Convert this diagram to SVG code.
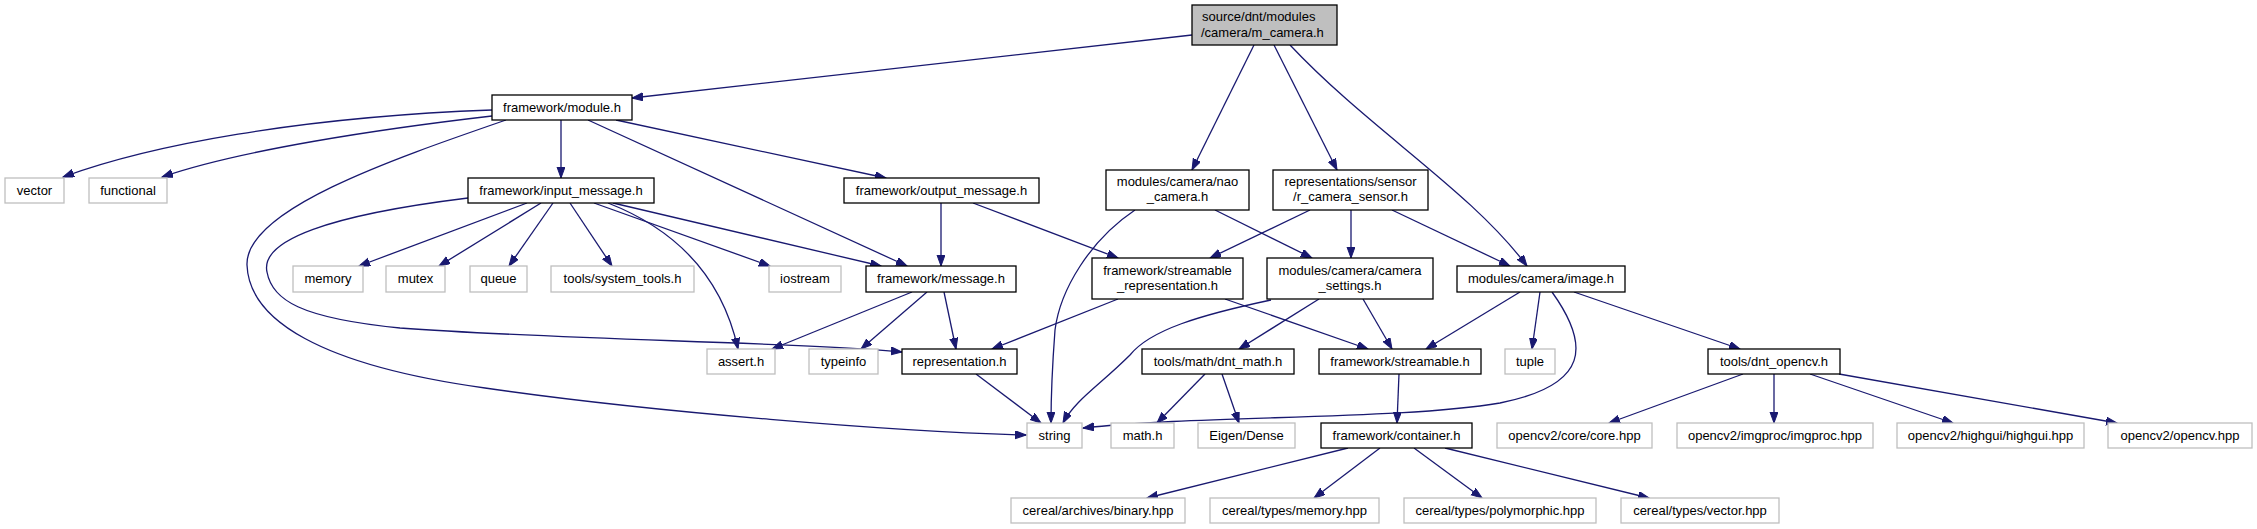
<svg xmlns="http://www.w3.org/2000/svg" width="2257" height="529" viewBox="0 0 2257 529">
<style>
.n rect{fill:#fff;stroke:#000;stroke-width:1.3}
.g rect{fill:#fff;stroke:#bfbfbf;stroke-width:1.3}
.r rect{fill:#bfbfbf;stroke:#000;stroke-width:1.3}
text{font-family:"Liberation Sans",Arial,sans-serif;font-size:13px;fill:#000;text-anchor:middle}
.r text{text-anchor:start}
#edges path{fill:none;stroke:#191970;stroke-width:1.3;marker-end:url(#ah)}
</style>
<defs>
<marker id="ah" markerUnits="userSpaceOnUse" markerWidth="12" markerHeight="9" refX="11" refY="4" orient="auto">
<path d="M0,0 L11,4 L0,8 z" fill="#191970" stroke="#191970" stroke-width="1"/>
</marker>
</defs>
<rect width="2257" height="529" fill="#fff"/>
<g id="edges">
<path d="M1192,35 L632,98"/>
<path d="M1254,45 L1192,170"/>
<path d="M1274,45 L1337,170"/>
<path d="M1290,45 C1370,130 1470,190 1527,266"/>
<path d="M492,110 C300,117 150,145 63,177"/>
<path d="M492,116 C380,129 240,150 162,177"/>
<path d="M506,120 C390,160 245,210 247,265 C249,320 320,365 485,388 C650,412 900,432 1026,435"/>
<path d="M561,120 L561,178"/>
<path d="M588,120 L907,266"/>
<path d="M616,120 L886,178"/>
<path d="M527,203 L359,266"/>
<path d="M541,203 L439,266"/>
<path d="M553,203 L509,266"/>
<path d="M570,203 L612,266"/>
<path d="M594,203 L770,266"/>
<path d="M608,203 C690,235 725,290 738,349"/>
<path d="M613,203 L881,266"/>
<path d="M468,198 C330,215 260,240 267,272 C272,300 300,318 400,328 C560,340 800,342 902,352"/>
<path d="M941,203 L941,266"/>
<path d="M973,203 L1118,258"/>
<path d="M1135,210 C1090,240 1060,290 1055,330 C1052,370 1051,400 1051,423"/>
<path d="M1215,210 L1312,258"/>
<path d="M1310,210 L1210,258"/>
<path d="M1351,210 L1351,258"/>
<path d="M1392,210 L1510,266"/>
<path d="M912,292 L772,349"/>
<path d="M927,292 L861,349"/>
<path d="M944,292 L956,349"/>
<path d="M1118,299 L992,349"/>
<path d="M1225,299 L1368,349"/>
<path d="M1271,300 C1200,315 1150,330 1130,355 C1100,385 1075,400 1063,423"/>
<path d="M1319,299 L1239,349"/>
<path d="M1363,299 L1392,349"/>
<path d="M1520,292 L1426,349"/>
<path d="M1540,292 L1532,349"/>
<path d="M1552,292 C1590,345 1590,385 1500,403 C1400,420 1200,415 1083,428"/>
<path d="M1574,292 L1740,349"/>
<path d="M1205,374 L1157,423"/>
<path d="M1222,374 L1239,423"/>
<path d="M976,374 L1041,423"/>
<path d="M1399,374 L1397,423"/>
<path d="M1743,374 L1609,423"/>
<path d="M1774,374 L1774,423"/>
<path d="M1810,374 L1953,423"/>
<path d="M1839,374 L2117,423"/>
<path d="M1348,448 L1147,498"/>
<path d="M1380,448 L1314,498"/>
<path d="M1414,448 L1482,498"/>
<path d="M1445,448 L1649,498"/>
</g>
<g id="n_root" class="r"><rect x="1192" y="5" width="145" height="40"/><text x="1202" y="21">source/dnt/modules</text><text x="1201" y="36.5">/camera/m_camera.h</text></g>
<g id="n_module" class="n"><rect x="492" y="95" width="140" height="25"/><text x="562" y="111.5">framework/module.h</text></g>
<g id="n_vector" class="g"><rect x="5" y="178" width="59" height="25"/><text x="34.5" y="194.5">vector</text></g>
<g id="n_functional" class="g"><rect x="89" y="178" width="78" height="25"/><text x="128" y="194.5">functional</text></g>
<g id="n_input" class="n"><rect x="468" y="178" width="186" height="25"/><text x="561" y="194.5">framework/input_message.h</text></g>
<g id="n_output" class="n"><rect x="844" y="178" width="195" height="25"/><text x="941.5" y="194.5">framework/output_message.h</text></g>
<g id="n_nao" class="n"><rect x="1106" y="170" width="143" height="40"/><text x="1177.5" y="185.5">modules/camera/nao</text><text x="1177.5" y="200.5">_camera.h</text></g>
<g id="n_sensor" class="n"><rect x="1273" y="170" width="155" height="40"/><text x="1350.5" y="185.5">representations/sensor</text><text x="1350.5" y="200.5">/r_camera_sensor.h</text></g>
<g id="n_memory" class="g"><rect x="293" y="266" width="70" height="26"/><text x="328" y="283">memory</text></g>
<g id="n_mutex" class="g"><rect x="386" y="266" width="59" height="26"/><text x="415.5" y="283">mutex</text></g>
<g id="n_queue" class="g"><rect x="470" y="266" width="57" height="26"/><text x="498.5" y="283">queue</text></g>
<g id="n_systools" class="g"><rect x="551" y="266" width="143" height="26"/><text x="622.5" y="283">tools/system_tools.h</text></g>
<g id="n_iostream" class="g"><rect x="769" y="266" width="72" height="26"/><text x="805" y="283">iostream</text></g>
<g id="n_message" class="n"><rect x="866" y="266" width="150" height="26"/><text x="941" y="283">framework/message.h</text></g>
<g id="n_streprep" class="n"><rect x="1092" y="258" width="151" height="41"/><text x="1167.5" y="274.5">framework/streamable</text><text x="1167.5" y="289.5">_representation.h</text></g>
<g id="n_camset" class="n"><rect x="1267" y="258" width="166" height="41"/><text x="1350" y="274.5">modules/camera/camera</text><text x="1350" y="289.5">_settings.h</text></g>
<g id="n_image" class="n"><rect x="1457" y="266" width="168" height="26"/><text x="1541" y="283">modules/camera/image.h</text></g>
<g id="n_assert" class="g"><rect x="707" y="349" width="68" height="25"/><text x="741" y="365.5">assert.h</text></g>
<g id="n_typeinfo" class="g"><rect x="809" y="349" width="69" height="25"/><text x="843.5" y="365.5">typeinfo</text></g>
<g id="n_repr" class="n"><rect x="902" y="349" width="115" height="25"/><text x="959.5" y="365.5">representation.h</text></g>
<g id="n_dntmath" class="n"><rect x="1142" y="349" width="152" height="25"/><text x="1218" y="365.5">tools/math/dnt_math.h</text></g>
<g id="n_streamable" class="n"><rect x="1319" y="349" width="162" height="25"/><text x="1400" y="365.5">framework/streamable.h</text></g>
<g id="n_tuple" class="g"><rect x="1505" y="349" width="50" height="25"/><text x="1530" y="365.5">tuple</text></g>
<g id="n_opencv" class="n"><rect x="1708" y="349" width="132" height="25"/><text x="1774" y="365.5">tools/dnt_opencv.h</text></g>
<g id="n_string" class="g"><rect x="1027" y="423" width="55" height="25"/><text x="1054.5" y="439.5">string</text></g>
<g id="n_mathh" class="g"><rect x="1111" y="423" width="63" height="25"/><text x="1142.5" y="439.5">math.h</text></g>
<g id="n_eigen" class="g"><rect x="1198" y="423" width="97" height="25"/><text x="1246.5" y="439.5">Eigen/Dense</text></g>
<g id="n_container" class="n"><rect x="1321" y="423" width="151" height="25"/><text x="1396.5" y="439.5">framework/container.h</text></g>
<g id="n_core" class="g"><rect x="1497" y="423" width="155" height="25"/><text x="1574.5" y="439.5">opencv2/core/core.hpp</text></g>
<g id="n_imgproc" class="g"><rect x="1677" y="423" width="196" height="25"/><text x="1775" y="439.5">opencv2/imgproc/imgproc.hpp</text></g>
<g id="n_highgui" class="g"><rect x="1897" y="423" width="187" height="25"/><text x="1990.5" y="439.5">opencv2/highgui/highgui.hpp</text></g>
<g id="n_opencvhpp" class="g"><rect x="2108" y="423" width="144" height="25"/><text x="2180" y="439.5">opencv2/opencv.hpp</text></g>
<g id="n_binary" class="g"><rect x="1011" y="498" width="174" height="25"/><text x="1098" y="514.5">cereal/archives/binary.hpp</text></g>
<g id="n_cmemory" class="g"><rect x="1210" y="498" width="169" height="25"/><text x="1294.5" y="514.5">cereal/types/memory.hpp</text></g>
<g id="n_poly" class="g"><rect x="1404" y="498" width="192" height="25"/><text x="1500" y="514.5">cereal/types/polymorphic.hpp</text></g>
<g id="n_cvector" class="g"><rect x="1621" y="498" width="158" height="25"/><text x="1700" y="514.5">cereal/types/vector.hpp</text></g>
</svg>
